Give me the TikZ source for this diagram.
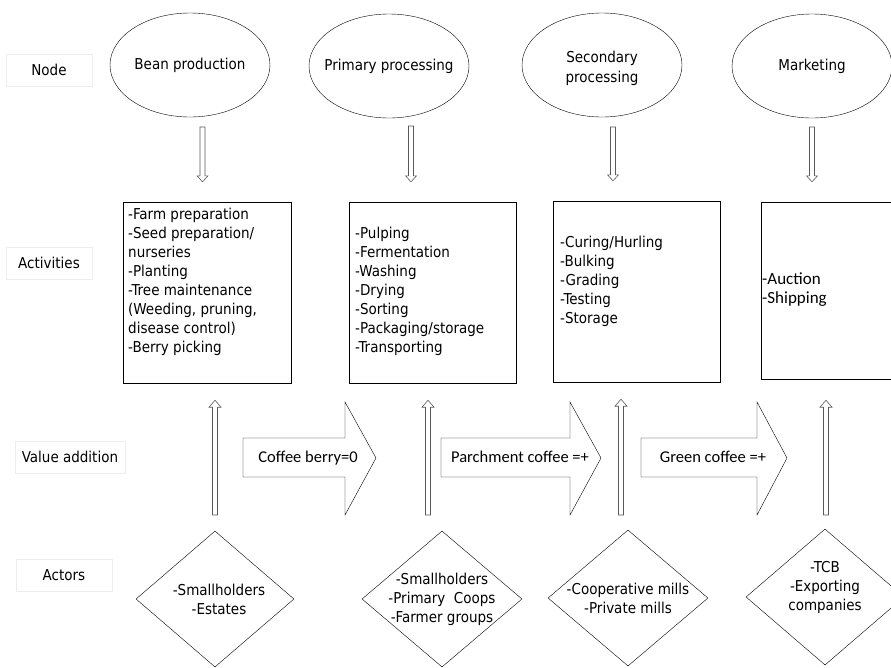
\documentclass[tikz,border=0pt]{standalone}
\usepackage{fontspec}
\setmainfont{DejaVu Sans Condensed}
\newfontfamily\calibri{Carlito}
\usetikzlibrary{shapes.geometric,calc}

% block arrow for the value addition row: tail x, neck x, tip x
\newcommand{\valuearrow}[3]{%
  \draw (#1,438) -- (#2,438) -- (#2,402) -- (#3,458) -- (#2,515) -- (#2,477) -- (#1,477) -- cycle;}
% thin hollow arrows: from first point to second point
\newcommand{\hollowdown}[2]{%
  \draw[hollow] let \p1=#1, \p2=#2 in
    (\x1-2.5pt,\y1) -- (\x1+2.5pt,\y1) -- (\x1+2.5pt,\y2+6pt) -- (\x1+5.5pt,\y2+6pt)
    -- (\x1,\y2) -- (\x1-5.5pt,\y2+6pt) -- (\x1-2.5pt,\y2+6pt) -- cycle;}
\newcommand{\hollowup}[2]{%
  \draw[hollow] let \p1=#1, \p2=#2 in
    (\x1-2.5pt,\y1) -- (\x1+2.5pt,\y1) -- (\x1+2.5pt,\y2-7pt) -- (\x1+6pt,\y2-7pt)
    -- (\x1,\y2) -- (\x1-6pt,\y2-7pt) -- (\x1-2.5pt,\y2-7pt) -- cycle;}

\begin{document}
\begin{tikzpicture}[x=1pt,y=-1pt,
    stage/.style={draw, ellipse, minimum width=160, minimum height=104},
    stagetext/.style={align=center, inner sep=0, font=\fontsize{15}{20}\selectfont},
    actbox/.style={draw, rectangle, minimum width=168, minimum height=181},
    actor/.style={draw, diamond, minimum width=158, minimum height=136, inner sep=0},
    rowlabel/.style={draw=black!7, minimum height=32, font=\fontsize{15}{18}\selectfont},
    listtext/.style={anchor=west, align=left, inner sep=0, font=\fontsize{15}{19}\selectfont},
    actortext/.style={align=center, inner sep=0, font=\fontsize{15}{19}\selectfont},
    valuetext/.style={font=\calibri\fontsize{16.5}{18}\selectfont},
    hollow/.style={draw=black!65, line width=0.6pt, fill=white}]
        \useasboundingbox (0,0) rectangle (891,667);
        \clip (0,0) rectangle (891,667);
        % row labels on the left
        \node[rowlabel, minimum width=86] (rnode) at (49,70) {Node};
        \node[rowlabel, minimum width=86] (ract) at (49,263) {Activities};
        \node[rowlabel, minimum width=110] (rval) at (70,457) {Value addition};
        \node[rowlabel, minimum width=96] (ractor) at (64,575) {Actors};
        % the four nodes of the chain
        \node[stage] (e1) at (190,65) {};
        \node[stage] (e2) at (389,66) {};
        \node[stage] (e3) at (602,65) {};
        \node[stage] (e4) at (812,66) {};
        \node[stagetext] (t1) at (e1) {Bean production};
        \node[stagetext] (t2) at (e2) {Primary processing};
        \node[stagetext] (t3) at ($(e3)+(0,3)$) {Secondary\\processing};
        \node[stagetext] (t4) at (e4) {Marketing};
        % activity boxes
        \node[actbox] (b1) at (207,292.5) {};
        \node[actbox, minimum width=167] (b2) at (432.5,292.5) {};
        \node[actbox, minimum width=167] (b3) at (636.5,291.5) {};
        \node[actbox, minimum height=177] (b4) at (845,290.5) {};
        \node[listtext] (l1) at (128,281.5) {-Farm preparation\\-Seed preparation/\\nurseries\\-Planting\\-Tree maintenance\\(Weeding, pruning,\\disease control)\\-Berry picking};
        \node[listtext] (l2) at (355,291) {-Pulping\\-Fermentation\\-Washing\\-Drying\\-Sorting\\-Packaging/storage\\-Transporting};
        \node[listtext] (l3) at (560,281.5) {-Curing/Hurling\\-Bulking\\-Grading\\-Testing\\-Storage};
        \node[listtext, font=\calibri\fontsize{17}{19}\selectfont] (l4) at (762,289.5) {-Auction\\-Shipping};
        % arrows from nodes down to activities
        \coordinate (p1) at (202.5,127);
        \coordinate (p2) at (411,126);
        \coordinate (p3) at (613,127);
        \coordinate (p4) at (812,127);
        \hollowdown{(p1)}{($(p1 |- b1.north)+(0,-20)$)}
        \hollowdown{(p2)}{($(p2 |- b2.north)+(0,-20)$)}
        \hollowdown{(p3)}{($(p3 |- b3.north)+(0,-20)$)}
        \hollowdown{(p4)}{($(p4 |- b4.north)+(0,-20)$)}
        % value addition arrows
        \valuearrow{243}{345}{376}
        \valuearrow{441}{570}{601}
        \valuearrow{641}{757}{787}
        \node[valuetext] (v1) at (308,458) {Coffee berry=0};
        \node[valuetext] (v2) at (520,457) {Parchment coffee =+};
        \node[valuetext] (v3) at (713,457) {Green coffee =+};
        % actors
        \node[actor] (d1) at (215,599) {};
        \node[actor, minimum width=160] (d2) at (442,599) {};
        \node[actor, minimum width=160] (d3) at (628,598) {};
        \node[actor] (d4) at (825,597) {};
        \node[actortext] (a1) at (219,599) {-Smallholders\\-Estates};
        \node[actortext] (a2) at (442,599) {-Smallholders\\-Primary~~Coops\\-Farmer groups};
        \node[actortext] (a3) at (628,598.5) {-Cooperative mills\\-Private mills};
        \node[actortext] (a4) at (825,587) {-TCB\\-Exporting\\companies};
        % arrows from actors up to activities
        \coordinate (u1) at (215,515);
        \coordinate (u2) at (428,515);
        \coordinate (u3) at (621,515);
        \coordinate (u4) at (826,515);
        \hollowup{(u1)}{($(u1 |- b1.south)+(0,17)$)}
        \hollowup{(u2)}{($(u2 |- b2.south)+(0,17)$)}
        \hollowup{(u3)}{($(u3 |- b3.south)+(0,17)$)}
        \hollowup{(u4)}{($(u4 |- b4.south)+(0,21)$)}
\end{tikzpicture}
\end{document}
